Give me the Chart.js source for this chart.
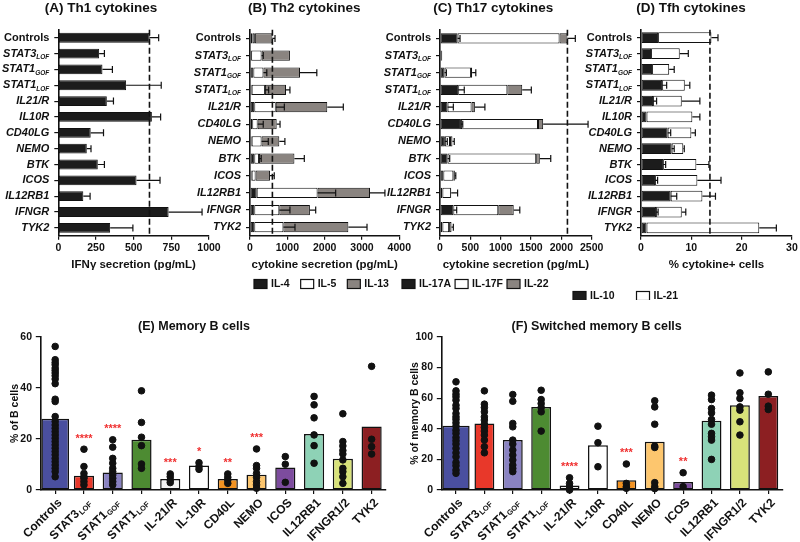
<!DOCTYPE html>
<html>
<head>
<meta charset="utf-8">
<script src="https://cdn.jsdelivr.net/npm/chart.js@4.4.1/dist/chart.umd.min.js"></script>
<style>
  html, body { margin: 0; padding: 0; background: #fff; }
  #fig { position: relative; width: 800px; height: 542px; overflow: hidden; }
  #fig canvas { position: absolute; }
</style>
</head>
<body>
<div id="fig">
  <canvas id="chartA" width="230" height="300" style="left:0;top:0"></canvas>
  <canvas id="chartB" width="240" height="300" style="left:180px;top:0"></canvas>
  <canvas id="chartC" width="240" height="300" style="left:375px;top:0"></canvas>
  <canvas id="chartD" width="235" height="300" style="left:565px;top:0"></canvas>
  <canvas id="chartE" width="400" height="242" style="left:0;top:300px"></canvas>
  <canvas id="chartF" width="400" height="242" style="left:400px;top:300px"></canvas>
</div>
<script>
const FONT = '"Liberation Sans", Arial, Helvetica, sans-serif';
const INK = '#111';
Chart.defaults.font.family = FONT;
Chart.defaults.font.weight = 'bold';
Chart.defaults.color = INK;

// row categories of panels A and D
const genesAD = ['Controls', 'STAT3', 'STAT1', 'STAT1', 'IL21/R', 'IL10R', 'CD40LG', 'NEMO', 'BTK', 'ICOS', 'IL12RB1', 'IFNGR', 'TYK2'];
const subsAD  = ['', 'LOF', 'GOF', 'LOF', '', '', '', '', '', '', '', '', ''];
// row categories of panels B and C (no IL10R)
const genesBC = ['Controls', 'STAT3', 'STAT1', 'STAT1', 'IL21/R', 'CD40LG', 'NEMO', 'BTK', 'ICOS', 'IL12RB1', 'IFNGR', 'TYK2'];
const subsBC  = ['', 'LOF', 'GOF', 'LOF', '', '', '', '', '', '', '', ''];

// (A) Th1 - IFNg pg/mL
const ifng    = [606, 271, 293, 450, 322, 621, 215, 189, 262, 519, 166, 732, 344];
const ifngErr = [60, 35, 66, 233, 44, 58, 85, 28, 44, 156, 45, 222, 151];
const th1Line = 605;

// (B) Th2 - stacked pg/mL
const il4     = [70, 30, 90, 45, 115, 60, 45, 115, 45, 180, 115, 115];
const il5     = [60, 280, 270, 355, 575, 145, 265, 125, 105, 1630, 670, 780];
const il13    = [470, 760, 980, 565, 1380, 510, 475, 950, 385, 1405, 820, 1740];
const il5Err  = [null, 45, 90, 100, 230, 150, 180, 60, null, 485, 285, 310];
const il13Err = [70, null, 450, 105, 430, 90, 150, 265, 115, 400, 155, 500];
const th2Line = 600;

// (C) Th17 - stacked pg/mL
const il17a    = [290, 30, 75, 300, 125, 345, 80, 125, 55, 40, 220, 40];
const il17f    = [1680, 5, 435, 810, 395, 1270, 85, 1460, 165, 140, 740, 110];
const il22     = [130, 3, 20, 245, 55, 85, 40, 60, 25, 5, 255, 40];
const il17aErr = [40, null, 30, 100, 95, 30, 40, 35, null, null, 55, null];
const il22Err  = [130, null, 60, 150, 165, 740, 30, 180, 15, 105, 100, 30];
const th17Line = 2100;

// (D) Tfh - % cytokine+ cells
const il10    = [3.4, 2.0, 2.2, 4.2, 2.4, 1.1, 5.3, 6.1, 4.4, 2.8, 5.9, 3.0, 1.1];
const il21    = [10.6, 5.7, 3.4, 4.5, 5.7, 9.1, 4.7, 2.3, 6.6, 8.4, 6.3, 5.1, 22.4];
const il10Err = [null, null, null, 0.9, 0.7, null, 0.6, 0.5, 0.5, 0.5, 1.2, 0.4, null];
const il21Err = [1.3, 1.7, 1.0, 1.0, 3.6, 1.5, 0.8, 0.2, 2.5, 4.7, 2.6, 0.8, 3.4];
const tfhLine = 13.7;

// (E)(F) categories
const genesEF = ['Controls', 'STAT3', 'STAT1', 'STAT1', 'IL-21/R', 'IL-10R', 'CD40L', 'NEMO', 'ICOS', 'IL12RB1', 'IFNGR1/2', 'TYK2'];
const subsEF  = ['', 'LOF', 'GOF', 'LOF', '', '', '', '', '', '', '', ''];
const colorsEF = ['#4a4f9f', '#e8382a', '#8a83c2', '#4d8b32', '#f2f2f2', '#ffffff', '#f39322', '#fdc66e', '#7d4c9e', '#8ed2b6', '#d8e27a', '#8c1f22'];

// (E) Memory B cells, % of B cells
const memMeans = [27.9, 5.6, 6.9, 19.7, 4.3, 9.6, 4.3, 6.0, 8.8, 22.0, 12.3, 24.9];
const memDots = [
  [56.3, 51.1, 50.0, 49.1, 47.8, 46.9, 45.9, 44.8, 43.5, 41.7, 35.6, 34.7, 28.8, 26.9, 25.5, 24.2, 22.9, 21.6, 20.3, 19.0, 17.7, 16.4, 15.1, 13.8, 12.4, 11.1, 9.8, 8.5, 7.2, 5.2],
  [16.0, 9.2, 6.5, 5.2, 4.6, 3.3, 2.0],
  [19.7, 16.8, 12.4, 10.5, 8.5, 7.2, 5.9, 4.6, 3.3, 2.0],
  [38.9, 26.5, 20.7, 17.4, 10.2, 8.5],
  [6.3, 5.2, 3.9, 2.9],
  [10.7, 9.2, 8.1],
  [6.3, 5.0, 3.9, 2.6],
  [16.1, 9.6, 8.5, 6.5, 5.0, 3.3, 2.0, 0.7],
  [13.1, 10.1, 3.0],
  [36.7, 33.4, 28.3, 21.6, 17.4, 10.5],
  [29.9, 19.0, 17.3, 15.5, 14.1, 11.8, 8.5, 7.2, 5.2, 2.6],
  [48.5, 19.9, 17.0, 14.1]
];
const memStars = ['', '****', '****', '', '***', '*', '**', '***', '', '', '', ''];

// (F) Switched memory B cells, % of memory B cells
const swMeans = [42.0, 43.5, 32.6, 54.3, 3.0, 29.3, 6.3, 31.5, 5.2, 45.2, 55.4, 61.5];
const swDots = [
  [70.7, 64.8, 62.6, 60.9, 58.7, 55.4, 53.3, 50.0, 47.8, 46.1, 43.9, 41.7, 39.1, 37.0, 34.3, 32.2, 30.0, 27.2, 24.3, 21.7, 18.0, 15.9, 13.0, 10.9],
  [64.8, 56.1, 53.9, 51.1, 47.8, 45.7, 43.0, 40.9, 38.5, 35.9, 32.6, 28.3, 24.3],
  [62.4, 58.0, 43.5, 41.3, 32.6, 30.0, 26.1, 22.8, 19.6, 16.3, 14.1, 12.0],
  [65.2, 59.1, 56.5, 53.9, 51.1, 38.5],
  [8.0, 4.3, 2.2, 0],
  [41.7, 30.9, 15.2],
  [17.0, 4.3, 2.2, 1.1],
  [58.3, 54.3, 43.0, 28.7, 27.8, 4.8, 2.2, 0.9],
  [11.3, 2.2],
  [62.0, 59.1, 53.3, 50.4, 46.1, 43.0, 37.0, 34.8, 32.6, 20.0],
  [76.5, 63.5, 59.8, 54.3, 52.2, 44.6, 35.9],
  [77.2, 62.6, 54.8, 52.6]
];
const swStars = ['', '', '', '', '****', '', '***', '', '**', '', '', ''];

const BLACK = '#1c1c1c', WHITE = '#ffffff', GREY = '#8a8480';

function labelsOf(genes, subs) {
  return genes.map((g, i) => subs[i] ? g + ' ' + subs[i] : g);
}

// plain numbers, no thousands separator
const plainTick = v => String(v);

// draws titles, legends, error bars, reference line, subscripted labels and stars
function decor(cfg) {
  return {
    id: 'decor',
    afterDraw(chart) {
      const ctx = chart.ctx;
      const area = chart.chartArea;
      const xs = chart.scales.x;
      const ys = chart.scales.y;
      ctx.save();
      ctx.fillStyle = INK;
      ctx.strokeStyle = INK;

      // error bars (positive side only)
      chart.data.datasets.forEach((ds, d) => {
        if (!ds.errors) return;
        chart.getDatasetMeta(d).data.forEach((bar, i) => {
          const e = ds.errors[i];
          if (!e) return;
          const end = bar.x + xs.getPixelForValue(e) - xs.getPixelForValue(0);
          ctx.lineWidth = 1.2;
          ctx.beginPath();
          ctx.moveTo(bar.x, bar.y);
          ctx.lineTo(end, bar.y);
          ctx.moveTo(end, bar.y - 3.5);
          ctx.lineTo(end, bar.y + 3.5);
          ctx.stroke();
        });
      });

      if (cfg.refLine !== undefined) {
        const x = xs.getPixelForValue(cfg.refLine);
        ctx.lineWidth = 1.6;
        ctx.setLineDash([6, 3]);
        ctx.beginPath();
        ctx.moveTo(x, area.top);
        ctx.lineTo(x, area.bottom);
        ctx.stroke();
        ctx.setLineDash([]);
      }

      if (cfg.title) {
        ctx.font = 'bold ' + cfg.title.size + 'px ' + FONT;
        ctx.textAlign = 'center';
        ctx.textBaseline = 'middle';
        ctx.fillText(cfg.title.text, cfg.title.x, cfg.title.y);
      }

      if (cfg.legend) {
        let x = cfg.legend.x;
        const y = cfg.legend.y;
        ctx.font = 'bold 10.5px ' + FONT;
        ctx.textAlign = 'left';
        ctx.textBaseline = 'middle';
        chart.data.datasets.forEach(ds => {
          ctx.fillStyle = ds.backgroundColor;
          ctx.fillRect(x, y - 4.5, 13, 9);
          ctx.lineWidth = 1.2;
          ctx.strokeRect(x, y - 4.5, 13, 9);
          ctx.fillStyle = INK;
          ctx.fillText(ds.label, x + 17, y);
          x += 17 + ctx.measureText(ds.label).width + cfg.legend.gap;
        });
      }

      // row labels on the left of horizontal panels
      if (cfg.rows) {
        const right = area.left - 9;
        ctx.textAlign = 'right';
        ctx.textBaseline = 'middle';
        cfg.rows.genes.forEach((g, i) => {
          const y = ys.getPixelForValue(i);
          const sub = cfg.rows.subs[i];
          const style = g === 'Controls' ? 'bold ' : 'italic bold ';
          ctx.font = 'italic bold 6.5px ' + FONT;
          const sw = sub ? ctx.measureText(sub).width : 0;
          ctx.font = style + '11px ' + FONT;
          ctx.fillText(g, right - sw, y);
          if (sub) {
            ctx.font = 'italic bold 6.5px ' + FONT;
            ctx.fillText(sub, right, y + 3.5);
          }
        });
      }

      // rotated column labels under vertical panels
      if (cfg.cols) {
        cfg.cols.genes.forEach((g, i) => {
          const sub = cfg.cols.subs[i];
          ctx.save();
          ctx.translate(xs.getPixelForValue(i) + 5, area.bottom + 11);
          ctx.rotate(-Math.PI / 4);
          ctx.textAlign = 'right';
          ctx.textBaseline = 'middle';
          ctx.font = 'bold 7.5px ' + FONT;
          const sw = sub ? ctx.measureText(sub).width + 1 : 0;
          ctx.font = 'bold 12px ' + FONT;
          ctx.fillText(g, -sw, 0);
          if (sub) {
            ctx.font = 'bold 7.5px ' + FONT;
            ctx.fillText(sub, 0, 3);
          }
          ctx.restore();
        });
      }

      // significance stars above the highest dot
      if (cfg.stars) {
        ctx.fillStyle = '#f03030';
        ctx.font = 'bold 11px ' + FONT;
        ctx.textAlign = 'center';
        ctx.textBaseline = 'alphabetic';
        cfg.stars.marks.forEach((s, i) => {
          if (!s) return;
          const top = Math.max(...cfg.stars.dots[i]);
          ctx.fillText(s, xs.getPixelForValue(i), ys.getPixelForValue(top) - 7.5);
        });
      }
      ctx.restore();
    }
  };
}

function horizontalPanel(id, p) {
  return new Chart(document.getElementById(id), {
    type: 'bar',
    data: {
      labels: labelsOf(p.genes, p.subs),
      datasets: p.datasets.map(ds => Object.assign({
        borderColor: INK,
        borderWidth: 1,
        borderSkipped: false,
        barPercentage: p.bar,
        categoryPercentage: 1
      }, ds))
    },
    options: {
      indexAxis: 'y',
      responsive: false,
      animation: false,
      layout: { padding: { left: p.padL, right: p.padR, top: 29.8, bottom: 24.2 } },
      plugins: { legend: { display: false }, tooltip: { enabled: false } },
      scales: {
        x: {
          type: 'linear',
          stacked: true,
          min: 0,
          max: p.max,
          ticks: { stepSize: p.step, padding: 2.2, maxRotation: 0, callback: plainTick, font: { size: 10.5, weight: 'bold' } },
          grid: { display: true, drawOnChartArea: false, drawTicks: true, tickLength: 4, color: INK, lineWidth: 1.2 },
          border: { display: true, color: INK, width: 1.6 },
          title: { display: true, text: p.xTitle, font: { size: 11.5, weight: 'bold' }, padding: { top: 0, bottom: 3.9 } },
          afterFit: s => { s.height = 40; }
        },
        y: {
          type: 'category',
          stacked: true,
          offset: true,
          ticks: { display: false },
          grid: { display: true, offset: false, drawOnChartArea: false, drawTicks: true, tickLength: 4, color: INK, lineWidth: 1.2 },
          border: { display: true, color: INK, width: 1.6 },
          afterFit: s => { s.width = 6; }
        }
      }
    },
    plugins: [decor({
      title: p.title,
      legend: p.legend,
      refLine: p.refLine,
      rows: { genes: p.genes, subs: p.subs }
    })]
  });
}

function columnPanel(id, p) {
  const labels = labelsOf(genesEF, subsEF);
  const dots = p.dots.flatMap((vals, i) => vals.map(v => ({ x: labels[i], y: v })));
  const barBase = {
    backgroundColor: colorsEF,
    borderColor: INK,
    borderWidth: 1.5,
    borderSkipped: false,
    categoryPercentage: 1,
    grouped: false,
    order: 1
  };
  return new Chart(document.getElementById(id), {
    type: 'bar',
    data: {
      labels: labels,
      datasets: [
        { type: 'scatter', data: dots, backgroundColor: INK, borderColor: INK, pointRadius: 3.3, clip: false, order: 0 },
        Object.assign({ data: p.means.map((v, i) => i === 0 ? v : null), barPercentage: 0.96 }, barBase),
        Object.assign({ data: p.means.map((v, i) => i === 0 ? null : v), barPercentage: 0.7 }, barBase)
      ]
    },
    options: {
      responsive: false,
      animation: false,
      layout: { padding: { left: p.padL, right: p.padR, top: 37, bottom: 0 } },
      plugins: { legend: { display: false }, tooltip: { enabled: false } },
      scales: {
        x: {
          type: 'category',
          offset: true,
          ticks: { display: false },
          grid: { display: true, offset: false, drawOnChartArea: false, drawTicks: true, tickLength: 4, color: INK, lineWidth: 1.2 },
          border: { display: true, color: INK, width: 1.6 },
          afterFit: s => { s.height = 52; }
        },
        y: {
          type: 'linear',
          min: 0,
          max: p.max,
          ticks: { stepSize: 20, padding: 3.8, callback: plainTick, font: { size: 10.5, weight: 'bold' } },
          grid: { display: true, drawOnChartArea: false, drawTicks: true, tickLength: 5, color: INK, lineWidth: 1.2 },
          border: { display: true, color: INK, width: 1.6 },
          title: { display: true, text: p.yTitle, font: { size: 10.5, weight: 'bold' }, padding: { top: p.titlePad, bottom: 0 } },
          afterFit: s => { s.width = 38; }
        }
      }
    },
    plugins: [decor({
      title: p.title,
      cols: { genes: genesEF, subs: subsEF },
      stars: { marks: p.stars, dots: p.dots }
    })]
  });
}

horizontalPanel('chartA', {
  genes: genesAD, subs: subsAD, bar: 0.62, padL: 52.3, padR: 21,
  max: 1000, step: 250, xTitle: 'IFN\u03b3 secretion (pg/mL)', refLine: th1Line,
  title: { text: '(A) Th1 cytokines', x: 101, y: 8, size: 13.5 },
  datasets: [{ label: 'IFN\u03b3', data: ifng, errors: ifngErr, backgroundColor: BLACK }]
});

horizontalPanel('chartB', {
  genes: genesBC, subs: subsBC, bar: 0.6, padL: 64, padR: 20.7,
  max: 4000, step: 1000, xTitle: 'cytokine secretion (pg/mL)', refLine: th2Line,
  title: { text: '(B) Th2 cytokines', x: 124.2, y: 8, size: 13.5 },
  legend: { x: 74, y: 284, gap: 11 },
  datasets: [
    { label: 'IL-4', data: il4, backgroundColor: BLACK },
    { label: 'IL-5', data: il5, errors: il5Err, backgroundColor: WHITE },
    { label: 'IL-13', data: il13, errors: il13Err, backgroundColor: GREY }
  ]
});

horizontalPanel('chartC', {
  genes: genesBC, subs: subsBC, bar: 0.6, padL: 59, padR: 23.3,
  max: 2500, step: 500, xTitle: 'cytokine secretion (pg/mL)', refLine: th17Line,
  title: { text: '(C) Th17 cytokines', x: 118.3, y: 8, size: 13.5 },
  legend: { x: 27, y: 284, gap: 4 },
  datasets: [
    { label: 'IL-17A', data: il17a, errors: il17aErr, backgroundColor: BLACK },
    { label: 'IL-17F', data: il17f, backgroundColor: WHITE },
    { label: 'IL-22', data: il22, errors: il22Err, backgroundColor: GREY }
  ]
});

horizontalPanel('chartD', {
  genes: genesAD, subs: subsAD, bar: 0.68, padL: 70, padR: 7.7,
  max: 30, step: 10, xTitle: '% cytokine+ cells', refLine: tfhLine,
  title: { text: '(D) Tfh cytokines', x: 126, y: 8, size: 13.5 },
  legend: { x: 8, y: 296, gap: 22 },
  datasets: [
    { label: 'IL-10', data: il10, errors: il10Err, backgroundColor: BLACK },
    { label: 'IL-21', data: il21, errors: il21Err, backgroundColor: WHITE }
  ]
});

columnPanel('chartE', {
  means: memMeans, dots: memDots, stars: memStars, max: 60,
  yTitle: '% of B cells', titlePad: 5.9, padL: 2.8, padR: 14,
  title: { text: '(E) Memory B cells', x: 194, y: 26.7, size: 12.5 }
});

columnPanel('chartF', {
  means: swMeans, dots: swDots, stars: swStars, max: 100,
  yTitle: '% of memory B cells', titlePad: 4.9, padL: 3.8, padR: 17.5,
  title: { text: '(F) Switched memory B cells', x: 196.7, y: 26.7, size: 12.5 }
});
</script>
</body>
</html>
